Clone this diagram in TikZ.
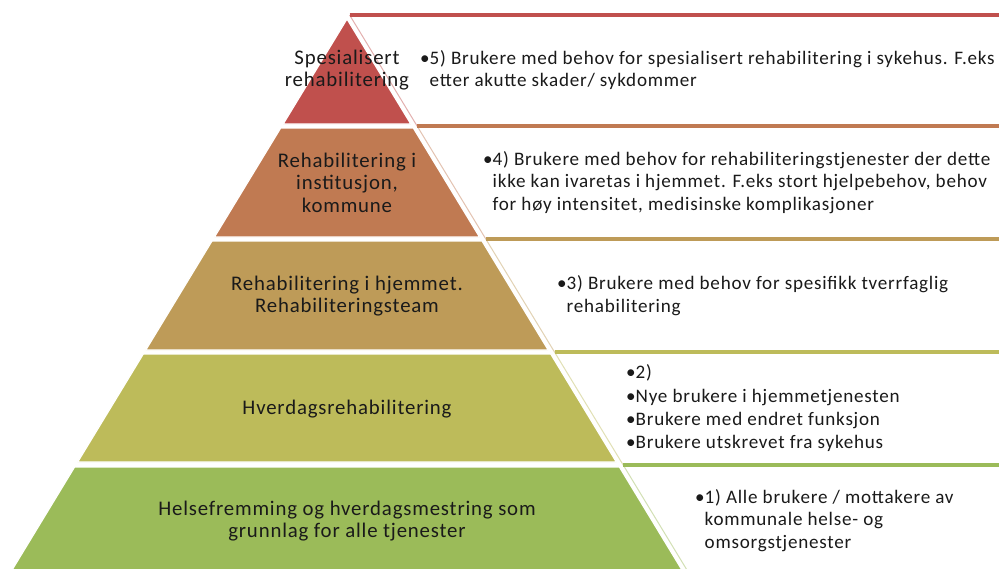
\documentclass[tikz,border=0pt]{standalone}
\usepackage{fontspec}
\setmainfont{Carlito}[LetterSpace=4]
\definecolor{cA}{HTML}{C0504D}
\definecolor{cB}{HTML}{C07A52}
\definecolor{cC}{HTML}{BE9B58}
\definecolor{cD}{HTML}{BDBB5A}
\definecolor{cE}{HTML}{9BBB59}
\definecolor{ink}{HTML}{1A1A1A}
\newcommand{\lbfont}{\fontsize{20.8}{22.5}\selectfont}
\newcommand{\rtfont}{\fontsize{19.1}{22.5}\selectfont}
\newcommand{\rtfontb}{\fontsize{19.1}{23.3}\selectfont}
\tikzset{
  layer/.style={fill=#1, draw=white, line width=1.2pt},
  boxedge/.style={draw=#1!45, line width=1pt},
  boxtop/.style={draw=#1, line width=3.5pt},
  lbl/.style={font=\lbfont, text=ink, inner sep=0pt},
  rtxt/.style={font=\rtfont, text=ink, inner sep=0pt, anchor=west},
}
\begin{document}
\begin{tikzpicture}[x=1pt,y=-1pt]
\useasboundingbox (0,0) rectangle (999,568);
\clip (0,0) rectangle (999,568);
\fill[white] (0,0) rectangle (999,568);
% boxes (right side)
\draw[boxedge=cA] (349.6,15) -- (417.1,126);
\draw[boxedge=cB] (417.1,126) -- (485.8,239);
\draw[boxedge=cC] (485.8,239) -- (554.5,352);
\draw[boxedge=cD] (554.5,352) -- (623.2,465);
\draw[boxedge=cE] (623.2,465) -- (690,575);
\draw[boxtop=cA] (349.6,15) -- (1010,15);
\draw[boxtop=cB] (417.1,126) -- (1010,126);
\draw[boxtop=cC] (485.8,239) -- (1010,239);
\draw[boxtop=cD] (554.5,352) -- (1010,352);
\draw[boxtop=cE] (623.2,465) -- (1010,465);
% pyramid layers
\path[layer=cA] (347,19) -- (410.8,124) -- (283.2,124) -- cycle;
\path[layer=cB] (280.7,128) -- (413.3,128) -- (479.5,237) -- (214.5,237) -- cycle;
\path[layer=cC] (212,241) -- (482,241) -- (548.2,350) -- (145.8,350) -- cycle;
\path[layer=cD] (143.3,354) -- (550.7,354) -- (616.3,462) -- (77.7,462) -- cycle;
\path[layer=cE] (74.6,467) -- (619.4,467) -- (685,575) -- (9,575) -- cycle;
% pyramid labels
\node[lbl] (l5) at (347,71) {\begin{tabular}{@{}c@{}}Spesialisert\\rehabilitering\end{tabular}};
\node[lbl] (l4) at (347,185) {\begin{tabular}{@{}c@{}}Rehabilitering i\\institusjon,\\kommune\end{tabular}};
\node[lbl] (l3) at (347,297) {\begin{tabular}{@{}c@{}}Rehabilitering i hjemmet.\\Rehabiliteringsteam\end{tabular}};
\node[lbl] (l2) at (347,410) {\begin{tabular}{@{}c@{}}Hverdagsrehabilitering\end{tabular}};
\node[lbl] (l1) at (347,522) {\begin{tabular}{@{}c@{}}Helsefremming og hverdagsmestring som\\grunnlag for alle tjenester\end{tabular}};
% box texts
\node[rtxt] (t5) at (420,71) {\begin{tabular}{@{}l@{}l@{}}•&5) Brukere med behov for spesialisert rehabilitering i sykehus. F.eks\\&etter akutte skader/ sykdommer\end{tabular}};
\node[rtxt] (t4) at (483,183) {\begin{tabular}{@{}l@{}l@{}}•&4) Brukere med behov for rehabiliteringstjenester der dette\\&ikke kan ivaretas i hjemmet. F.eks stort hjelpebehov, behov\\&for høy intensitet, medisinske komplikasjoner\end{tabular}};
\node[rtxt] (t3) at (557,296.5) {\begin{tabular}{@{}l@{}l@{}}•&3) Brukere med behov for spesifikk tverrfaglig\\&rehabilitering\end{tabular}};
\node[rtxt, font=\rtfontb] (t2) at (626,409) {\begin{tabular}{@{}l@{}l@{}}•&2)\\•&Nye brukere i hjemmetjenesten\\•&Brukere med endret funksjon\\•&Brukere utskrevet fra sykehus\end{tabular}};
\node[rtxt] (t1) at (695,521) {\begin{tabular}{@{}l@{}l@{}}•&1) Alle brukere / mottakere av\\&kommunale helse- og\\&omsorgstjenester\end{tabular}};
\end{tikzpicture}
\end{document}
